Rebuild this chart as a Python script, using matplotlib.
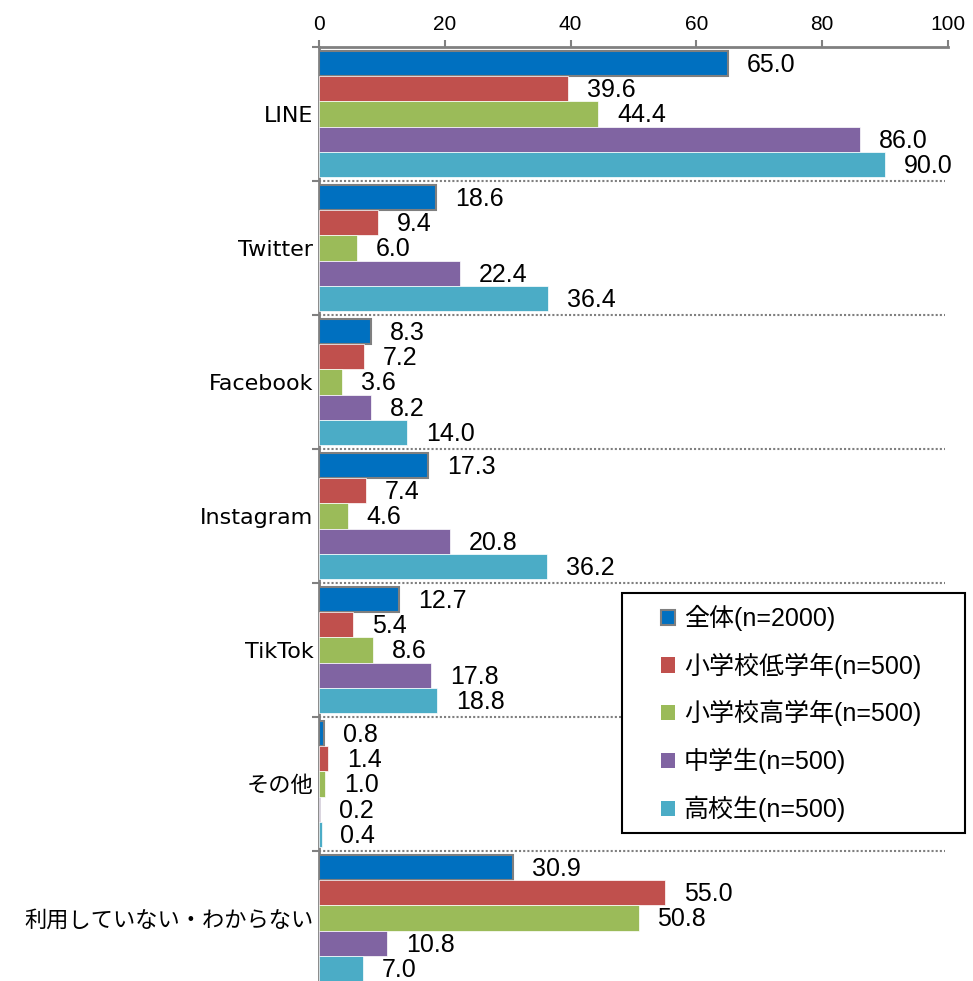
import matplotlib
matplotlib.use("Agg")
import matplotlib.pyplot as plt
import numpy as np
from matplotlib.patches import Patch, Rectangle

plt.rcParams['font.family'] = ['Liberation Sans', 'Noto Sans CJK JP', 'DejaVu Sans']

categories = ["LINE", "Twitter", "Facebook", "Instagram", "TikTok", "その他", "利用していない・わからない"]
series_names = ["全体(n=2000)", "小学校低学年(n=500)", "小学校高学年(n=500)", "中学生(n=500)", "高校生(n=500)"]
zentai = [65.0, 18.6, 8.3, 17.3, 12.7, 0.8, 30.9]
sho_low = [39.6, 9.4, 7.2, 7.4, 5.4, 1.4, 55.0]
sho_high = [44.4, 6.0, 3.6, 4.6, 8.6, 1.0, 50.8]
chugaku = [86.0, 22.4, 8.2, 20.8, 17.8, 0.2, 10.8]
koko = [90.0, 36.4, 14.0, 36.2, 18.8, 0.4, 7.0]
x_ticks = [0, 20, 40, 60, 80, 100]

series = [zentai, sho_low, sho_high, chugaku, koko]
colors = ["#0070C0", "#C0504D", "#9BBB59", "#8064A2", "#4BACC6"]

fig = plt.figure(figsize=(9.73, 9.81), dpi=100)
ax = fig.add_axes([319/973, -4/981, (948-319)/973, (981-47+4)/981])

n = len(categories)
h = 0.189
y = np.arange(n)
for k, (vals, c) in enumerate(zip(series, colors)):
    pos = y + (k - 2) * h
    if k == 0:
        ax.barh(pos, vals, height=h, color=c, edgecolor="#7f7f7f", linewidth=1.5, zorder=3)
    else:
        ax.barh(pos, vals, height=h, color=c, edgecolor="white", linewidth=0.5, zorder=3)
    for p, v in zip(pos, vals):
        ax.text(v + 3.0, p + 0.01, f"{v:.1f}", va="center", ha="left", fontsize=18, zorder=4)

ax.set_ylim(n - 0.5, -0.5)
ax.set_xlim(0, 100)

# separators
for b in np.arange(0.5, n - 0.5, 1.0):
    ax.axhline(b, xmax=0.995, color="#7f7f7f", linestyle=(0, (1, 1)), linewidth=1.5, zorder=2)

ax.xaxis.tick_top()
ax.set_xticks(x_ticks)
ax.set_xticklabels([str(t) for t in x_ticks], fontsize=15)
ax.tick_params(axis="x", direction="out", length=5, width=1.5, color="#808080", pad=4)

major_y = np.arange(-0.5, n, 1.0)
ax.set_yticks(major_y, minor=False)
ax.set_yticklabels([""] * len(major_y))
ax.tick_params(axis="y", direction="out", length=5, width=1.5, color="#808080")
ax.set_yticks(y, minor=True)
ax.set_yticklabels(categories, minor=True, fontsize=16,
                   family=['DejaVu Sans', 'Noto Sans CJK JP'])
ax.tick_params(axis="y", which="minor", length=0, pad=4)

for s in ["right", "bottom"]:
    ax.spines[s].set_visible(False)
for s in ["top", "left"]:
    ax.spines[s].set_color("#808080")
    ax.spines[s].set_linewidth(2)

handles = [Patch(facecolor=c, edgecolor=("#7f7f7f" if i == 0 else c), linewidth=1.5 if i == 0 else 0)
           for i, c in enumerate(colors)]
leg = fig.legend(handles, series_names, loc="upper left",
                 bbox_to_anchor=(661/973, 1 - 605/981),
                 fontsize=18, frameon=False,
                 handlelength=0.56, handleheight=0.56, handletextpad=0.35,
                 labelspacing=0.86, borderpad=0, borderaxespad=0)
fig.add_artist(Rectangle((622/973, 1 - 833/981), (965-622)/973, (833-593)/981,
                         transform=fig.transFigure, fill=True, facecolor="white",
                         edgecolor="black", linewidth=1.5, zorder=1))
leg.set_zorder(5)

fig.savefig("out.png", dpi=100)
